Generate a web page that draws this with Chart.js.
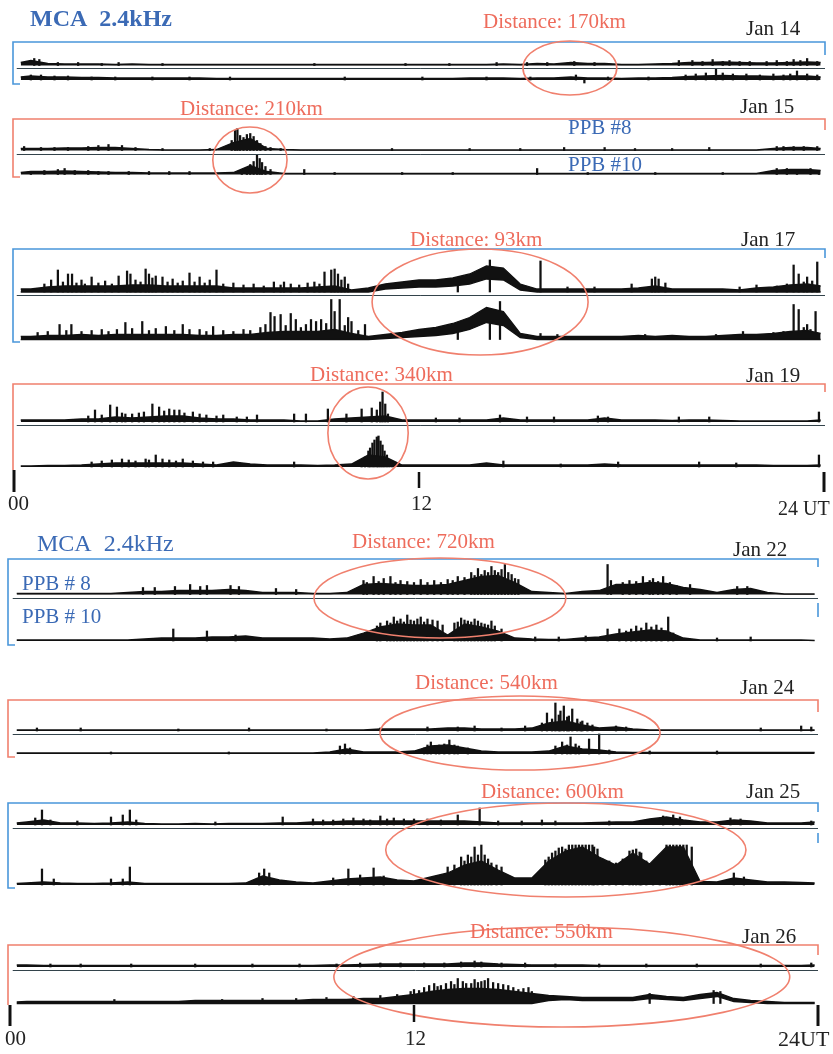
<!DOCTYPE html>
<html>
<head>
<meta charset="utf-8">
<script src="https://cdn.jsdelivr.net/npm/chart.js@4.4.1/dist/chart.umd.min.js"></script>
<style>
  html, body { margin: 0; padding: 0; background: #fff; }
  #wrap { position: relative; width: 833px; height: 1054px; overflow: hidden; background: #fff; }
  #wrap canvas { position: absolute; left: 0; top: 0; }
  .t { position: absolute; white-space: nowrap; line-height: 1; font-family: "Liberation Serif", "Times New Roman", serif; font-size: 21px; }
  .red { color: #ee6c5c; }
  .blue { color: #3b6ab5; }
  .blk { color: #222; }
</style>
</head>
<body>
<div id="wrap">
  <div class="t blue" style="left:30px;top:6px;font-size:24px;font-weight:bold;">MCA&nbsp;&nbsp;2.4kHz</div>
  <div class="t red" style="left:483px;top:11px;">Distance: 170km</div>
  <div class="t blk" style="left:746px;top:18px;">Jan 14</div>
  <div class="t red" style="left:180px;top:98px;">Distance: 210km</div>
  <div class="t blk" style="left:740px;top:96px;">Jan 15</div>
  <div class="t blue" style="left:568px;top:117px;">PPB #8</div>
  <div class="t blue" style="left:568px;top:154px;">PPB #10</div>
  <div class="t red" style="left:410px;top:229px;">Distance: 93km</div>
  <div class="t blk" style="left:741px;top:229px;">Jan 17</div>
  <div class="t red" style="left:310px;top:364px;">Distance: 340km</div>
  <div class="t blk" style="left:746px;top:365px;">Jan 19</div>
  <div class="t blk" style="left:8px;top:493px;">00</div>
  <div class="t blk" style="left:411px;top:493px;">12</div>
  <div class="t blk" style="left:778px;top:498px;font-size:20px;">24 UT</div>
  <div class="t blue" style="left:37px;top:531px;font-size:24px;">MCA&nbsp;&nbsp;2.4kHz</div>
  <div class="t red" style="left:352px;top:531px;">Distance: 720km</div>
  <div class="t blk" style="left:733px;top:539px;">Jan 22</div>
  <div class="t blue" style="left:22px;top:573px;">PPB # 8</div>
  <div class="t blue" style="left:22px;top:606px;">PPB # 10</div>
  <div class="t red" style="left:415px;top:672px;">Distance: 540km</div>
  <div class="t blk" style="left:740px;top:677px;">Jan 24</div>
  <div class="t red" style="left:481px;top:781px;">Distance: 600km</div>
  <div class="t blk" style="left:746px;top:781px;">Jan 25</div>
  <div class="t red" style="left:470px;top:921px;">Distance: 550km</div>
  <div class="t blk" style="left:742px;top:926px;">Jan 26</div>
  <div class="t blk" style="left:5px;top:1028px;">00</div>
  <div class="t blk" style="left:405px;top:1028px;">12</div>
  <div class="t blk" style="left:778px;top:1028px;font-size:22px;">24UT</div>
</div>
<script>
// ---------------- DATA (universal time in hours; amplitude above trace baseline) ----------------
const HOURS = [0.2,0.5,1,1.5,2,2.5,3,3.5,4,4.5,5,5.5,6,6.5,7,7.5,8,8.5,9,9.5,10,10.5,11,11.5,
  12,12.5,13,13.5,14,14.5,15,15.5,16,16.5,17,17.5,18,18.5,19,19.5,20,20.5,21,21.5,22,22.5,23,23.5,23.9];
const TICK_HOURS = [0, 12, 24];

// Jan 14
const J14_PPB8 = [3,5,2,1.5,1.5,1.5,1,1.5, 1,1,1,1,1,1,1,1, 1,1,1,1,1,1,1,1, 1,1,1,1,1,1.5,1,2,
  1.5,3,2,2,1,1,1.5,2, 3,3,3.5,3,2.5,2.5,3,3.5, 3];
const J14_PPB10 = [3,4,3,3,2.5,2.5,2,2, 2,2,2,2,1.5,1.5,1.5,1.5, 1.5,1.5,1.5,1.5,1.5,1.5,1.5,1.5,
  1.5,1.5,1.5,2,2,2,1.5,2, 2,3,2,2,1.5,2,2,2.5, 3.5,4,4.5,4,4,3.5,4,4, 3];
const J14_SPK8 = [[0.6,7],[0.75,6],[1.3,3],[1.9,3],[2.6,2],[3.1,3],[4.4,2],[8.9,2],[11.6,2],[12.9,2],[14.3,3],[15.2,3],[15.8,3],[16.6,4],[17.2,3],[19.7,5],[20.1,5],[20.4,4],[20.7,6],[21.0,4],[21.2,5],[21.5,4],[21.8,4],[22.3,4],[22.6,5],[22.9,4],[23.1,6],[23.3,5],[23.5,7],[23.8,4]];
const J14_SPK10 = [[0.5,5],[0.8,5],[1.2,4],[1.6,4],[2.3,3],[3.0,3],[4.1,3],[5.2,3],[6.4,3],[9.8,3],[12.1,3],[14.0,3],[15.3,3],[16.65,5],[16.9,-3],[17.6,3],[18.8,3],[19.9,5],[20.2,6],[20.5,7],[20.8,11],[21.0,7],[21.3,6],[21.7,6],[22.1,5],[22.5,6],[22.8,5],[23.0,6],[23.2,9],[23.5,6],[23.8,5]];

// Jan 15
const J15_PPB8 = [2,2,2,2.5,2.5,3,3,2, 1,0.5,0.5,0.5,1,8,12,2, 1,0.5,0.5,0.5,0.5,0.5,0.5,0.5,
  0.5,0.5,0.5,0.5,0.5,0.5,0.5,0.5, 0.5,0.5,0.5,0.5,0.5,0.5,0.5,0.5, 0.5,0.5,0.5,0.5,0.5,2,3,3, 2];
const J15_PPB10 = [2,3,3,3.5,3,2.5,2,2, 1.5,1.5,1.5,1.5,1.5,2,9,3, 1,1,1,1,1,1,1,1,
  1,1,1,1,1,1,1,1, 1,1,1,1,1,1,1,1, 1,1,1,1,1,4,5,5, 4];
const J15_SPK8 = [[0.3,4],[0.8,3],[1.2,3],[1.6,3],[2.2,4],[2.5,5],[2.8,6],[3.2,5],[3.6,3],[4.4,2],[5.8,2],[6.45,10],[6.55,20],[6.62,22],[6.7,15],[6.8,13],[6.9,16],[7.0,17],[7.1,14],[7.2,10],[7.3,7],[7.45,4],[7.6,3],[7.9,2],[11.2,2],[13.5,2],[15.0,2],[16.3,3],[17.5,3],[18.4,2],[19.5,2],[20.6,3],[22.6,4],[22.8,4],[23.1,4],[23.4,4],[23.8,4]];
const J15_SPK10 = [[0.5,3],[0.9,4],[1.3,5],[1.5,6],[1.8,4],[2.2,4],[2.5,3],[2.8,3],[3.4,3],[4.0,3],[4.6,3],[5.2,3],[6.75,4],[6.9,7],[7.0,10],[7.1,13],[7.2,20],[7.28,16],[7.35,12],[7.45,8],[7.6,5],[8.6,5],[9.5,2],[11.5,2],[13.0,2],[15.5,6],[17.0,2],[19.0,2],[21.0,2],[22.6,6],[22.9,6],[23.2,5],[23.6,6],[23.85,4]];

// Jan 17 (band traces: upper edge / lower edge)
const J17_PPB8 = [3,3,5,6,6,6,6,7, 7,6,6,6,6,4,4,4, 4,4,5,6,2,4,8,10,
  12,12,14,18,26,24,8,3, 3,3,3,3,3,4,6,3, 3,3,3,2,4,5,7,8, 6];
const J17_PPB8_LOW = [0,0,0,0,0,0,0,0, 0,0,0,0,0,0,0,0, 0,0,0,0,0,0,3,4,
  5,5,6,8,13,12,2,0, 0,0,0,0,0,0,0,0, 0,0,0,0,0,0,0,0, 0];
const J17_PPB10 = [3,3,4,4,5,4,5,5, 5,5,5,4,4,5,5,7, 8,8,8,10,6,3,5,7,
  10,12,16,22,32,28,6,3, 3,3,3,3,3,4,3,4, 3,3,4,5,5,6,8,9, 6];
const J17_PPB10_LOW = [0,0,0,0,0,0,0,0, 0,0,0,0,0,0,0,0, 0,0,0,0,0,0,1,2,
  3,4,6,10,17,14,2,0, 0,0,0,0,0,0,0,0, 0,0,0,0,0,0,0,0, 0];
const J17_SPK8 = [[0.9,8],[1.1,12],[1.3,22],[1.45,10],[1.6,18],[1.72,18],[1.85,9],[2.0,12],[2.1,8],[2.3,15],[2.5,9],[2.7,11],[2.9,8],[3.1,16],[3.35,21],[3.45,18],[3.6,12],[3.75,10],[3.9,23],[4.0,18],[4.1,14],[4.2,16],[4.4,15],[4.55,10],[4.7,13],[4.85,9],[5.0,11],[5.2,19],[5.35,10],[5.5,15],[5.65,9],[5.8,12],[6.0,22],[6.2,8],[6.5,9],[6.8,7],[7.1,8],[7.4,6],[7.7,10],[7.9,7],[8.0,10],[8.2,8],[8.45,7],[8.7,9],[8.9,10],[9.05,8],[9.2,20],[9.4,22],[9.5,23],[9.6,18],[9.7,12],[9.8,15],[9.9,8],[13.15,14],[14.1,32],[15.6,31],[16.4,5],[17.2,5],[18.3,8],[18.9,13],[19.0,15],[19.1,13],[19.3,9],[21.5,5],[22.0,7],[22.6,6],[22.9,8],[23.1,27],[23.25,18],[23.4,10],[23.5,15],[23.65,11],[23.8,30]];
const J17_SPK10 = [[0.7,7],[1.0,8],[1.35,15],[1.55,9],[1.7,15],[2.0,8],[2.3,9],[2.6,10],[2.8,8],[3.05,10],[3.3,17],[3.5,11],[3.8,18],[4.0,9],[4.2,11],[4.5,13],[4.75,9],[5.0,15],[5.2,10],[5.5,10],[5.7,8],[5.9,13],[6.2,9],[6.5,8],[6.8,10],[7.0,9],[7.3,12],[7.45,15],[7.6,27],[7.72,23],[7.9,25],[8.05,14],[8.2,26],[8.35,20],[8.5,12],[8.65,15],[8.8,20],[8.95,18],[9.1,20],[9.25,16],[9.4,40],[9.5,28],[9.65,40],[9.8,14],[9.9,22],[10.0,18],[10.2,9],[10.4,15],[13.15,14],[14.1,30],[14.4,38],[15.6,6],[16.1,5],[18.7,5],[20.8,5],[21.6,8],[22.5,7],[22.8,8],[23.1,35],[23.25,30],[23.4,12],[23.5,15],[23.6,10],[23.75,28]];

// Jan 19
const J19_PPB8 = [2,2,2,2,3,3,5,4, 5,6,6,4,3,3,2,2, 2,1,1,3,4,5,6,2,
  2,2,2,2,2,4,2,2, 2,2,2,4,2,2,2,1.5, 2,2,1.5,1,1,1,1,1, 2];
const J19_PPB10 = [1,1,1.5,1.5,2,3,4,4, 4,4,4,3,2,5,3,2, 2,2,1.5,2,3,12,10,2,
  2,2,2,2,4,2,2,2, 2,2,2,3,2,2,2,2, 2,2,2,2,2,1.5,1.5,1.5, 2];
const J19_SPK8 = [[2.2,6],[2.4,12],[2.6,7],[2.85,17],[3.05,15],[3.2,9],[3.3,8],[3.5,8],[3.7,9],[3.85,10],[4.1,18],[4.3,15],[4.45,11],[4.6,13],[4.75,12],[4.9,12],[5.05,9],[5.3,10],[5.5,8],[5.7,7],[6.0,6],[6.2,7],[6.6,5],[6.9,5],[7.2,7],[8.3,8],[8.65,8],[9.3,13],[9.85,8],[10.3,13],[10.6,14],[10.75,12],[10.85,20],[10.92,30],[11.0,18],[11.08,8],[12.5,4],[13.2,4],[14.4,7],[15.2,5],[16.0,5],[17.3,6],[17.6,5],[19.7,5],[20.6,5],[23.85,10]];
const J19_SPK10 = [[2.3,5],[2.6,6],[2.9,7],[3.2,8],[3.4,7],[3.6,6],[3.9,8],[4.0,7],[4.2,12],[4.4,8],[4.6,7],[4.8,6],[5.0,8],[5.3,6],[5.6,5],[5.9,5],[8.3,5],[10.3,6],[10.4,10],[10.5,16],[10.55,19],[10.62,24],[10.68,27],[10.75,30],[10.8,31],[10.86,26],[10.92,22],[10.98,16],[11.05,12],[11.12,7],[11.2,4],[14.5,6],[16.2,3],[17.9,5],[20.3,5],[21.4,4],[23.85,12]];

// Jan 22
const J22_PPB8 = [1,1,1,1,1,1,1,2, 3,3,4,4,4,5,4,2, 2,2,1,1,2,10,11,10,
  9,9,10,14,18,19,12,3, 2,1,3,4,10,10,12,11, 7,5,2,5,6,2,0.5,0.5, 0.5];
const J22_PPB10 = [1,1,1,1,1,1,1,1, 2,3,3,3,4,4,5,3, 3,3,3,2,3,8,14,17,
  16,16,6,17,14,10,3,2, 1.5,1.5,3,4,7,9,11,10, 3,1,1,1,1,1,1,1, 0.5];
const J22_SPK8 = [[3.95,7],[4.3,7],[4.9,8],[5.35,10],[5.65,8],[5.85,9],[6.55,9],[6.8,8],[7.9,6],[8.5,5],[10.5,14],[10.6,12],[10.8,18],[10.95,13],[11.1,16],[11.3,18],[11.45,12],[11.6,14],[11.8,13],[12.0,12],[12.2,15],[12.4,12],[12.6,14],[12.8,12],[13.0,15],[13.15,14],[13.3,18],[13.5,17],[13.7,22],[13.8,19],[13.9,26],[14.0,20],[14.1,24],[14.2,22],[14.3,28],[14.4,24],[14.5,22],[14.6,25],[14.7,30],[14.8,22],[14.9,20],[15.0,16],[15.1,15],[17.75,30],[17.85,14],[18.2,12],[18.4,14],[18.6,13],[18.8,18],[19.0,14],[19.1,16],[19.25,13],[19.4,18],[19.6,12],[19.8,9],[20.2,10],[21.6,8],[21.9,8]];
const J22_SPK10 = [[4.85,12],[5.85,10],[6.7,6],[10.9,15],[11.0,18],[11.2,20],[11.3,18],[11.4,24],[11.5,20],[11.6,22],[11.7,19],[11.8,26],[11.9,21],[12.0,20],[12.1,22],[12.2,24],[12.3,19],[12.4,22],[12.55,21],[12.7,20],[12.85,16],[13.2,18],[13.3,19],[13.4,23],[13.5,21],[13.6,20],[13.7,19],[13.8,22],[13.9,20],[14.0,18],[14.1,17],[14.2,16],[14.3,20],[14.4,15],[14.6,12],[15.6,4],[16.3,4],[17.1,5],[17.75,12],[18.1,12],[18.3,10],[18.45,12],[18.6,15],[18.75,13],[18.9,18],[19.05,14],[19.2,16],[19.35,13],[19.55,24],[19.7,8],[21.0,3],[22.0,4]];

// Jan 24
const J24_PPB8 = [1,1,1,1,1,1,1,1, 1,1,1,1,1,1,1,1, 1,1,1,1,1,1,2,2,
  2,2,3,3,2,2,2,3, 8,10,6,3,4,2,1,1, 1,1,1,1,1,1,1,1, 1];
const J24_PPB10 = [1,1,1,1,1,1,1,1, 1,1,1,1,1,1,1,1, 1,1,1,2,5,2,2,2,
  3,8,9,6,3,2,2,2, 3,8,5,4,2,1.5,1.5,1.5, 1.5,1.5,1.5,1.5,1.5,1.5,1.5,1.5, 1.5];
const J24_SPK8 = [[0.8,3],[2.1,3],[5.0,2],[7.1,3],[9.4,2],[11.0,3],[12.4,4],[13.3,4],[13.8,5],[14.6,3],[15.3,5],[15.8,8],[15.95,18],[16.1,12],[16.2,28],[16.3,16],[16.35,20],[16.45,25],[16.55,14],[16.6,15],[16.7,22],[16.85,12],[16.95,9],[17.0,10],[17.15,8],[17.3,6],[18.0,5],[18.3,4],[22.3,3],[23.5,5],[23.8,4]];
const J24_SPK10 = [[3.0,2],[6.5,2],[9.8,8],[9.95,10],[10.1,6],[12.3,6],[12.4,9],[12.5,12],[12.65,8],[12.75,9],[12.9,10],[13.05,14],[13.2,9],[13.3,8],[13.6,6],[16.2,8],[16.4,12],[16.55,9],[16.65,17],[16.8,10],[16.9,8],[17.2,15],[17.5,20],[17.8,4],[19.0,3],[21.0,3]];

// Jan 25
const J25_PPB8 = [2,3,5,2,2,1.5,2,3, 1.5,1,1,1.5,1,1.5,1.5,1.5, 2,2,3,3,4,4,4,4,
  4,4,4,4,3,2,2,2, 2,2,2,2.5,3,3,6,8, 5,3,3,5,4,2,2,2, 3];
const J25_PPB10 = [1.5,2,3,2,1.5,1.5,2,3, 1.5,1.5,1.5,1.5,1.5,1.5,2,9, 5,3,2,4,6,7,8,5,
  4,8,12,20,24,15,7,7, 24,34,38,28,20,32,21,38, 38,3.5,3,7,5,3,3,2.5, 2];
const J25_SPK8 = [[0.75,7],[0.95,15],[1.2,5],[2.0,4],[3.0,8],[3.35,10],[3.56,15],[3.75,5],[6.1,3],[8.1,8],[9.0,6],[9.3,5],[9.6,5],[9.9,6],[10.2,7],[10.5,6],[10.7,5],[11.0,9],[11.2,6],[11.4,7],[11.7,6],[12.0,6],[12.4,6],[12.8,5],[13.3,10],[13.95,17],[14.5,4],[15.2,4],[15.8,5],[16.2,4],[17.8,4],[19.4,9],[19.7,10],[19.9,8],[21.4,7],[21.7,6],[23.8,4]];
const J25_SPK10 = [[0.95,16],[1.3,6],[3.0,6],[3.35,6],[3.56,18],[7.4,12],[7.55,16],[7.7,12],[9.6,7],[10.05,16],[10.4,10],[10.8,17],[11.1,9],[13.0,18],[13.2,20],[13.4,28],[13.5,24],[13.6,30],[13.7,28],[13.8,38],[13.9,30],[14.0,40],[14.1,30],[14.2,26],[14.3,22],[14.45,20],[14.6,18],[15.9,25],[16.0,28],[16.1,32],[16.2,34],[16.3,37],[16.4,38],[16.5,36],[16.6,40],[16.7,40],[16.8,40],[16.9,40],[17.0,40],[17.1,40],[17.2,40],[17.3,40],[17.35,38],[17.45,36],[17.6,26],[17.8,24],[18.0,22],[18.2,26],[18.4,34],[18.5,35],[18.6,36],[18.7,33],[18.75,32],[18.9,24],[19.1,22],[19.3,30],[19.5,40],[19.6,40],[19.7,40],[19.8,40],[19.9,40],[20.0,40],[20.1,40],[20.25,38],[21.5,12],[21.8,8]];

// Jan 26
const J26_PPB8 = [2,2,1.5,1.5,1.5,1.5,1.5,1.5, 1.5,1.5,1.5,1.5,1.5,1.5,1.5,1.5, 1.5,1.5,1.5,2,2,2.5,3,3,
  3,3,3,4,4,3,2.5,2, 2,2,2,1.5,1.5,1.5,1.5,1.5, 1.5,1.5,1.5,1.5,1.5,1.5,1.5,1.5, 2];
const J26_PPB10 = [1.5,2,2,2,2,2,2,2, 2,2,2,3,3,3,3,3, 3,3,4,4,4,5,5,7,
  9,12,14,15,15,14,12,10, 8,7,6,6,6,6,9,7, 6,9,11,5,3,2,1,1, 1];
const J26_PPB10_LOW = [0,0,0,0,0,0,0,0, 0,0,0,0,0,0,0,0, 0,0,0,0,0,0,0,0,
  0,0,0,0,0,0,0,0, 3,4,3,3,3,3,5,4, 3,5,7,2,1,0,0,0, 0];
const J26_SPK8 = [[1.2,3],[2.1,3],[3.6,3],[5.5,3],[7.2,3],[8.6,3],[9.7,3],[10.4,4],[11.0,4],[11.6,4],[12.3,4],[12.9,4],[13.4,5],[13.8,6],[14.0,5],[14.6,4],[15.3,4],[16.2,3],[17.5,3],[18.9,3],[20.4,3],[22.3,3],[23.8,4]];
const J26_SPK10 = [[3.1,4],[6.3,4],[7.5,5],[8.5,5],[9.4,6],[10.2,7],[11.0,8],[11.5,9],[11.9,12],[12.0,14],[12.15,13],[12.3,16],[12.45,18],[12.6,20],[12.7,17],[12.8,18],[12.95,20],[13.1,22],[13.2,19],[13.3,25],[13.45,22],[13.55,20],[13.7,20],[13.8,24],[13.9,21],[14.0,22],[14.1,23],[14.2,25],[14.35,21],[14.5,20],[14.65,19],[14.8,18],[14.95,16],[15.1,14],[15.25,15],[15.4,16],[15.5,12],[19.0,10],[20.9,13],[21.1,12]];

// ---------------- LAYOUT / STYLE ----------------
const BLUE = '#4a97da', RED = '#f0806e', INK = '#111';
const TOP = { padL: 14, padR: 9 }, BOT = { padL: 10, padR: 15 };

const PANELS = [
  { p8: J14_PPB8, p10: J14_PPB10, s8: J14_SPK8, s10: J14_SPK10, b8: 65.5, b10: 80, half: TOP,
    deco: { color: BLUE, left: 13, right: 825, top: 42, bottom: 84, foot: 7, rightEnd: 55, segs: [],
            ell: { h: 16.47, rh: 1.39, y: 68, ry: 27 } } },
  { p8: J15_PPB8, p10: J15_PPB10, s8: J15_SPK8, s10: J15_SPK10, b8: 150.5, b10: 174.5, half: TOP,
    deco: { color: RED, left: 13, right: 825, top: 119, bottom: 177, foot: 7, rightEnd: 130, segs: [],
            ell: { h: 6.99, rh: 1.10, y: 160, ry: 33 } } },
  { p8: J17_PPB8, l8: J17_PPB8_LOW, p10: J17_PPB10, l10: J17_PPB10_LOW, s8: J17_SPK8, s10: J17_SPK10, b8: 292, b10: 339.5, half: TOP,
    deco: { color: BLUE, left: 13, right: 825, top: 249, bottom: 342, foot: 7, rightEnd: 258, segs: [],
            ell: { h: 13.81, rh: 3.2, y: 302, ry: 53 } } },
  { p8: J19_PPB8, p10: J19_PPB10, s8: J19_SPK8, s10: J19_SPK10, b8: 422, b10: 467, half: TOP,
    deco: { color: RED, left: 13, right: 825, top: 384, bottom: 470, foot: 0, rightEnd: 392, segs: [],
            ell: { h: 10.49, rh: 1.19, y: 433, ry: 46 },
            ticks: [{ y1: 470, y2: 492, w: 3 }, { y1: 472, y2: 488, w: 2.5 }, { y1: 472, y2: 492, w: 3 }] } },
  { p8: J22_PPB8, p10: J22_PPB10, s8: J22_SPK8, s10: J22_SPK10, b8: 594.5, b10: 641, half: BOT,
    deco: { color: BLUE, left: 8, right: 818, top: 559, bottom: 645, foot: 7, rightEnd: 567, segs: [[603, 617]],
            ell: { h: 12.77, rh: 3.74, y: 598, ry: 40 } } },
  { p8: J24_PPB8, p10: J24_PPB10, s8: J24_SPK8, s10: J24_SPK10, b8: 731, b10: 754, half: BOT,
    deco: { color: RED, left: 8, right: 818, top: 700, bottom: 757, foot: 7, rightEnd: 712, segs: [],
            ell: { h: 15.15, rh: 4.16, y: 733, ry: 37 } } },
  { p8: J25_PPB8, p10: J25_PPB10, s8: J25_SPK8, s10: J25_SPK10, b8: 825, b10: 885, half: BOT,
    deco: { color: BLUE, left: 8, right: 818, top: 803, bottom: 888, foot: 7, rightEnd: 812, segs: [[833, 843]],
            ell: { h: 16.51, rh: 5.35, y: 850, ry: 47 } } },
  { p8: J26_PPB8, p10: J26_PPB10, l10: J26_PPB10_LOW, s8: J26_SPK8, s10: J26_SPK10, b8: 967, b10: 1003.5, half: BOT,
    deco: { color: RED, left: 8, right: 818, top: 945, bottom: 1005, foot: 0, rightEnd: 955, segs: [],
            ell: { h: 16.39, rh: 6.77, y: 977, ry: 50 },
            ticks: [{ y1: 1005, y2: 1026, w: 3 }, { y1: 1005, y2: 1022, w: 2.5 }, { y1: 1005, y2: 1026, w: 3 }] } }
];

const decorPlugin = {
  id: 'decor',
  afterDatasetsDraw(chart, args, o) {
    const ctx = chart.ctx, xs = chart.scales.x, y8 = chart.scales.y8;
    ctx.save();
    // second baseline under PPB #8
    ctx.strokeStyle = '#33434b'; ctx.lineWidth = 1;
    const yd = Math.round(y8.getPixelForValue(-3)) + 0.5;
    ctx.beginPath(); ctx.moveTo(xs.getPixelForValue(HOURS[0]) - 4, yd); ctx.lineTo(o.right, yd); ctx.stroke();
    // bracket
    ctx.strokeStyle = o.color; ctx.lineWidth = 1.6;
    ctx.beginPath();
    ctx.moveTo(o.left + o.foot, o.bottom); ctx.lineTo(o.left, o.bottom); ctx.lineTo(o.left, o.top);
    ctx.lineTo(o.right, o.top); ctx.lineTo(o.right, o.rightEnd);
    o.segs.forEach(s => { ctx.moveTo(o.right, s[0]); ctx.lineTo(o.right, s[1]); });
    ctx.stroke();
    // event ellipse
    const e = o.ell;
    const cx = xs.getPixelForValue(e.h), rx = xs.getPixelForValue(e.h + e.rh) - cx;
    ctx.strokeStyle = RED; ctx.lineWidth = 1.6;
    ctx.beginPath(); ctx.ellipse(cx, e.y, rx, e.ry, 0, 0, Math.PI * 2); ctx.stroke();
    // time axis ticks
    if (o.ticks) {
      ctx.strokeStyle = INK;
      TICK_HOURS.forEach((h, i) => {
        const t = o.ticks[i], px = xs.getPixelForValue(h);
        ctx.lineWidth = t.w;
        ctx.beginPath(); ctx.moveTo(px, t.y1); ctx.lineTo(px, t.y2); ctx.stroke();
      });
    }
    ctx.restore();
  }
};

function lineDs(arr, axis, fill) {
  return { type: 'line', yAxisID: axis, data: HOURS.map((h, i) => ({ x: h, y: arr[i] })),
    borderColor: INK, backgroundColor: INK, borderWidth: 1.3, pointRadius: 0, tension: 0, fill: fill };
}
function spikeDs(list, axis) {
  return { type: 'bar', yAxisID: axis, data: list.map(p => ({ x: p[0], y: p[1] })),
    backgroundColor: INK, borderWidth: 0, barThickness: 1.6, maxBarThickness: 1.6, grouped: false };
}

const wrap = document.getElementById('wrap');
PANELS.forEach(P => {
  const cv = document.createElement('canvas');
  cv.width = 833; cv.height = 1054;
  wrap.insertBefore(cv, wrap.firstChild);
  const ds = [];
  [['y8', P.p8, P.l8, P.s8], ['y10', P.p10, P.l10, P.s10]].forEach(([ax, hi, lo, sp]) => {
    if (lo) {
      const idx = ds.length;
      ds.push(lineDs(lo, ax, false));
      ds.push(lineDs(hi, ax, { target: idx }));
    } else {
      ds.push(lineDs(hi, ax, 'origin'));
    }
    ds.push(spikeDs(sp, ax));
  });
  new Chart(cv, {
    type: 'line',
    data: { datasets: ds },
    options: {
      responsive: false, animation: false, events: [],
      layout: { padding: { left: P.half.padL, right: P.half.padR, top: 0, bottom: 0 } },
      scales: {
        x: { type: 'linear', min: 0, max: 24, display: false, offset: false, grid: { offset: false } },
        y8: { type: 'linear', min: P.b8 - 1054, max: P.b8, display: false },
        y10: { type: 'linear', min: P.b10 - 1054, max: P.b10, display: false }
      },
      plugins: { legend: { display: false }, tooltip: { enabled: false }, decor: P.deco }
    },
    plugins: [decorPlugin]
  });
});
</script>
</body>
</html>
